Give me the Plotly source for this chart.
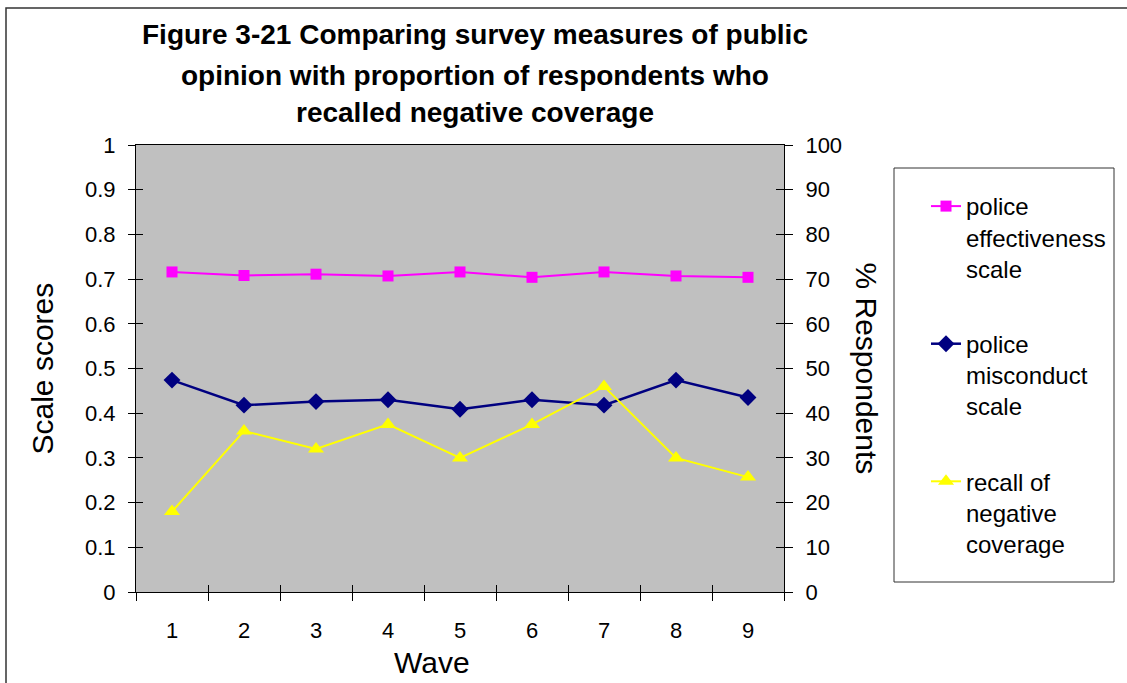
import plotly.graph_objects as go

# Survey waves and series values
waves = [1, 2, 3, 4, 5, 6, 7, 8, 9]
effectiveness = [0.716, 0.708, 0.711, 0.707, 0.716, 0.704, 0.716, 0.707, 0.704]
misconduct = [0.474, 0.418, 0.426, 0.430, 0.409, 0.430, 0.418, 0.474, 0.435]
recall_negative = [18, 36, 32, 37.5, 30, 37.5, 46, 30, 25.7]

title_lines = [
    "Figure 3-21 Comparing survey measures of public",
    "opinion with proportion of respondents who",
    "recalled negative coverage",
]
left_ticks = [0, 0.1, 0.2, 0.3, 0.4, 0.5, 0.6, 0.7, 0.8, 0.9, 1]
right_ticks = [0, 10, 20, 30, 40, 50, 60, 70, 80, 90, 100]

FONT = "Liberation Sans, Arial, sans-serif"
W, H = 1127, 683
L, R, T, B = 136, 343, 145, 91
PW, PH = W - L - R, H - T - B


def px_x(p):
    return (p - L) / PW


def px_y(p):
    return (H - B - p) / PH


# Category boundaries for the x tick marks
boundaries = [w - 0.5 for w in waves] + [waves[-1] + 0.5]
xrange_ = [waves[0] - 0.5, waves[-1] + 0.5]

fig = go.Figure()

fig.add_trace(go.Scatter(
    x=waves, y=effectiveness, name="police<br>effectiveness<br>scale",
    mode="lines+markers", legendgroup="a",
    line=dict(color="#FF00FF", width=2),
    marker=dict(symbol="square", size=11, color="#FF00FF"),
))
fig.add_trace(go.Scatter(
    x=waves, y=misconduct, name="police<br>misconduct<br>scale",
    mode="lines+markers", legendgroup="b",
    line=dict(color="#000080", width=2.5),
    marker=dict(symbol="diamond", size=13, color="#000080"),
))
fig.add_trace(go.Scatter(
    x=waves, y=recall_negative, name="recall of<br>negative<br>coverage",
    mode="lines+markers", legendgroup="c", yaxis="y2",
    line=dict(color="#FFFF00", width=2),
    marker=dict(symbol="triangle-up", size=14, color="#FFFF00"),
))

# Empty traces that carry the extra tick-mark axes (crossing ticks)
for xa, ya in [("x3", "y"), ("x4", "y"), ("x", "y3"), ("x", "y4")]:
    fig.add_trace(go.Scatter(x=[], y=[], xaxis=xa, yaxis=ya,
                             showlegend=False, hoverinfo="skip"))

tickfont = dict(family=FONT, size=22, color="black")

fig.update_layout(
    width=W, height=H,
    margin=dict(l=L, r=R, t=T, b=B, pad=0),
    paper_bgcolor="white",
    plot_bgcolor="#C0C0C0",
    font=dict(family=FONT, color="black"),
    showlegend=True,
    legend=dict(
        x=px_x(926), y=px_y(184), xanchor="left", yanchor="top",
        font=dict(family=FONT, size=24, color="black"),
        bgcolor="rgba(0,0,0,0)", borderwidth=0,
        tracegroupgap=41, valign="top",
    ),
    xaxis=dict(
        range=xrange_, tickvals=waves, ticktext=[str(w) for w in waves],
        ticks="", showgrid=False, zeroline=False,
        showline=True, linecolor="black", linewidth=1, mirror=True,
        tickfont=tickfont, ticklabelstandoff=19,
    ),
    xaxis3=dict(
        overlaying="x", anchor="y", range=xrange_, tickvals=boundaries,
        ticks="outside", ticklen=8, tickcolor="black", tickwidth=1,
        showticklabels=False, showgrid=False, zeroline=False, showline=False,
    ),
    xaxis4=dict(
        overlaying="x", anchor="y", range=xrange_, tickvals=boundaries,
        ticks="inside", ticklen=7, tickcolor="black", tickwidth=1,
        showticklabels=False, showgrid=False, zeroline=False, showline=False,
    ),
    yaxis=dict(
        range=[0, 1], tickvals=left_ticks, ticktext=[f"{v:g}" for v in left_ticks],
        ticks="outside", ticklen=7, tickcolor="black",
        showgrid=False, zeroline=False,
        showline=True, linecolor="black", linewidth=1,
        tickfont=tickfont, ticklabelstandoff=8,
    ),
    yaxis3=dict(
        overlaying="y", anchor="x", range=[0, 1], tickvals=left_ticks,
        ticks="inside", ticklen=7, tickcolor="black",
        showticklabels=False, showgrid=False, zeroline=False, showline=False,
    ),
    yaxis2=dict(
        overlaying="y", side="right", anchor="x", range=[0, 100],
        tickvals=right_ticks,
        ticks="outside", ticklen=8, tickcolor="black",
        showgrid=False, zeroline=False,
        showline=True, linecolor="black", linewidth=1,
        tickfont=tickfont, ticklabelstandoff=8,
    ),
    yaxis4=dict(
        overlaying="y", side="right", anchor="x", range=[0, 100],
        tickvals=right_ticks,
        ticks="inside", ticklen=8, tickcolor="black",
        showticklabels=False, showgrid=False, zeroline=False, showline=False,
    ),
)

annotations = []
for line, py in zip(title_lines, [34, 75, 112]):
    annotations.append(dict(
        text=f"<b>{line}</b>", x=px_x(475), y=px_y(py),
        xref="paper", yref="paper", xanchor="center", yanchor="middle",
        showarrow=False, font=dict(family=FONT, size=28, color="black"),
    ))
annotations.append(dict(
    text="Scale scores", x=px_x(42), y=0.5, xref="paper", yref="paper",
    xanchor="center", yanchor="middle", textangle=-90, showarrow=False,
    font=dict(family=FONT, size=30, color="black"),
))
annotations.append(dict(
    text="% Respondents", x=px_x(866), y=0.5, xref="paper", yref="paper",
    xanchor="center", yanchor="middle", textangle=90, showarrow=False,
    font=dict(family=FONT, size=30, color="black"),
))
annotations.append(dict(
    text="Wave", x=px_x(432), y=px_y(662), xref="paper", yref="paper",
    xanchor="center", yanchor="middle", showarrow=False,
    font=dict(family=FONT, size=30, color="black"),
))
fig.update_layout(annotations=annotations)

# Outer chart frame and legend box
fig.update_layout(shapes=[
    dict(type="rect", xref="paper", yref="paper",
         x0=px_x(6), x1=px_x(W + 20), y0=px_y(H + 20), y1=px_y(8),
         line=dict(color="#333333", width=1.5), fillcolor="rgba(0,0,0,0)",
         layer="below"),
    dict(type="rect", xref="paper", yref="paper",
         x0=px_x(894), x1=px_x(1114), y0=px_y(582), y1=px_y(168),
         line=dict(color="#333333", width=1), fillcolor="white",
         layer="below"),
])

fig.write_html("out.html")
